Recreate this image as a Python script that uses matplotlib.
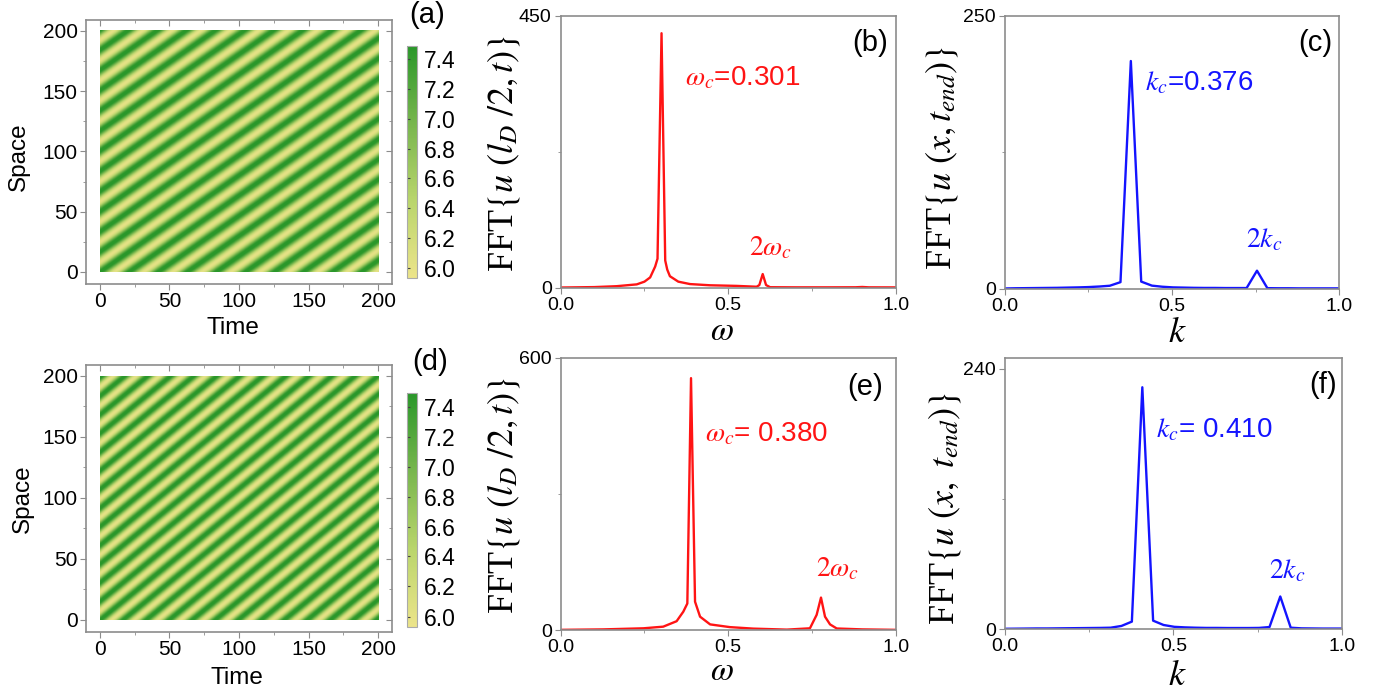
import numpy as np
import matplotlib
matplotlib.use('Agg')
import matplotlib.pyplot as plt
from matplotlib.colors import LinearSegmentedColormap
from matplotlib.ticker import MultipleLocator, FixedLocator

plt.rcParams['font.family'] = ['Liberation Sans', 'DejaVu Sans']
plt.rcParams['mathtext.fontset'] = 'stix'

# wave parameters for the space-time plots (a) and (d)
omega_a, k_a = 0.301, 0.376
omega_d, k_d = 0.380, 0.410
u_mean, u_amp = 6.78, 0.78
t_max, x_max = 200, 200

# FFT in time, panel (b)
b_w = [0.00, 0.10, 0.167, 0.227, 0.250, 0.267, 0.282, 0.289, 0.301, 0.312, 0.318,
       0.326, 0.351, 0.386, 0.446, 0.525, 0.585, 0.593, 0.603, 0.613, 0.625,
       0.70, 0.80, 0.88, 0.90, 0.92, 1.00]
b_amp = [0.3, 1.0, 2.5, 5.5, 10, 17, 35, 48, 421, 45, 30,
         19, 10, 6, 4, 3, 1.6, 4.4, 22.6, 4.4, 0.8,
         0.6, 0.6, 0.7, 1.2, 0.6, 0.5]

# FFT in time, panel (e)
e_w = [0.00, 0.127, 0.247, 0.306, 0.346, 0.366, 0.378, 0.389, 0.401, 0.416,
       0.446, 0.505, 0.575, 0.675, 0.744, 0.764, 0.777, 0.789, 0.804, 0.824,
       0.90, 1.00]
e_amp = [1.0, 2.0, 4.4, 8, 20, 41, 59, 555, 63, 30,
         13, 7, 3.7, 1.5, 4.4, 34, 72, 30, 13, 4,
         2, 1.0]

# FFT in space, panels (c) and (f)
k_grid = [0.000, 0.031, 0.063, 0.094, 0.126, 0.157, 0.188, 0.220, 0.251, 0.283,
          0.314, 0.346, 0.377, 0.408, 0.440, 0.471, 0.503, 0.534, 0.565, 0.597,
          0.628, 0.660, 0.691, 0.723, 0.754, 0.785, 0.817, 0.848, 0.880, 0.911,
          0.942, 0.974, 1.005]
c_amp = [0.2, 0.4, 0.5, 0.6, 0.7, 0.8, 1.0, 1.2, 1.5, 2.0,
         2.7, 6.0, 208.5, 6.5, 2.8, 1.8, 1.2, 1.0, 0.8, 0.7,
         0.7, 0.6, 0.6, 0.6, 16.5, 0.5, 0.4, 0.4, 0.3, 0.3,
         0.3, 0.3, 0.3]
f_amp = [0.2, 0.3, 0.4, 0.5, 0.5, 0.6, 0.7, 0.8, 0.9, 1.0,
         1.2, 2.8, 6.8, 223, 7.7, 3.7, 2.0, 1.5, 1.2, 1.0,
         1.0, 0.9, 0.9, 0.9, 1.0, 1.8, 30, 1.2, 0.6, 0.5,
         0.4, 0.4, 0.4]

cbar_ticks = [6.0, 6.2, 6.4, 6.6, 6.8, 7.0, 7.2, 7.4]
vmin, vmax = 5.93, 7.49

W, H = 1384, 698
fig = plt.figure(figsize=(W / 100, H / 100), dpi=100)


def px_axes(left, top, right, bottom):
    return fig.add_axes([left / W, 1 - bottom / H, (right - left) / W, (bottom - top) / H])


cmap = LinearSegmentedColormap.from_list('yg', ['#ece48a', '#b9d56c', '#78b64e', '#2a972a'])
FRAME = '#8c8c8c'


def heatmap(rect, cbar_rect, omega, k, label, lab_pos, space_pos, time_pos):
    ax = px_axes(*rect)
    t = np.linspace(0, t_max, 501)
    x = np.linspace(0, x_max, 501)
    T, X = np.meshgrid(t, x)
    u = u_mean + u_amp * np.cos(k * X - omega * T)
    im = ax.imshow(u, extent=[0, t_max, 0, x_max], origin='lower', aspect='auto',
                   cmap=cmap, vmin=vmin, vmax=vmax, interpolation='bilinear')
    ax.set_xlim(-10, 210)
    ax.set_ylim(-10, 209)
    for s in ax.spines.values():
        s.set_color(FRAME)
        s.set_linewidth(1.2)
    ax.xaxis.set_major_locator(MultipleLocator(50))
    ax.yaxis.set_major_locator(MultipleLocator(50))
    ax.xaxis.set_minor_locator(MultipleLocator(25))
    ax.yaxis.set_minor_locator(MultipleLocator(25))
    ax.tick_params(which='major', direction='out', length=4, color=FRAME, labelsize=15, pad=2)
    ax.tick_params(which='minor', direction='out', length=2.5, color=FRAME)
    top = ax.secondary_xaxis('top')
    top.xaxis.set_major_locator(FixedLocator([0, 50, 100, 150, 200]))
    top.xaxis.set_minor_locator(FixedLocator([25, 75, 125, 175]))
    top.tick_params(which='both', direction='in', color=FRAME, labeltop=False)
    top.tick_params(which='major', length=4)
    top.tick_params(which='minor', length=2.5)
    top.spines['top'].set_visible(False)
    right = ax.secondary_yaxis('right')
    right.yaxis.set_major_locator(FixedLocator([0, 50, 100, 150, 200]))
    right.yaxis.set_minor_locator(FixedLocator([25, 75, 125, 175]))
    right.tick_params(which='both', direction='in', color=FRAME, labelright=False)
    right.tick_params(which='major', length=4)
    right.tick_params(which='minor', length=2.5)
    right.spines['right'].set_visible(False)
    fig.text(space_pos[0] / W, 1 - space_pos[1] / H, 'Space', rotation=90,
             ha='center', va='center', fontsize=17.5)
    fig.text(time_pos[0] / W, 1 - time_pos[1] / H, 'Time', ha='center', va='center', fontsize=17.5)

    cax = px_axes(*cbar_rect)
    cb = fig.colorbar(im, cax=cax, ticks=cbar_ticks)
    cb.outline.set_edgecolor('#aaaaaa')
    cb.outline.set_linewidth(0.8)
    cb.ax.tick_params(labelsize=16.5, length=2.5, width=0.8, color='#444444', direction='in',
                      left=True, right=False, labelleft=False, labelright=True, pad=5)
    cb.ax.set_yticklabels([f'{v:.1f}' for v in cbar_ticks])
    fig.text(lab_pos[0] / W, 1 - lab_pos[1] / H, label, ha='center', va='center', fontsize=21)


heatmap((86, 20, 392, 284), (407, 46, 417, 278), omega_a, k_a, '(a)', (427, 15), (19, 157), (233, 328))
heatmap((86, 365, 392, 632), (407, 393, 417, 627), omega_d, k_d, '(d)', (430, 362), (23, 499), (237, 678))


def spectrum(rect, xs, ys, ymax, ytop, color, ylabel, xlabel, xlab_size, label, lab_pos,
             peak_txt, peak_xy, harm_txt, harm_xy, ylab_pos, xlab_pos):
    ax = px_axes(*rect)
    ax.plot(xs, ys, color=color, lw=1.7)
    ax.set_xlim(0, 1)
    ax.set_ylim(0, ytop)
    for s in ax.spines.values():
        s.set_color(FRAME)
        s.set_linewidth(1.2)
    ax.set_xticks([0, 0.5, 1.0])
    ax.set_xticklabels(['0.0', '0.5', '1.0'])
    ax.xaxis.set_minor_locator(FixedLocator([0.25, 0.75]))
    ax.set_yticks([0, ymax])
    ax.yaxis.set_minor_locator(FixedLocator([ymax / 2]))
    ax.tick_params(which='major', direction='out', length=4.5, color=FRAME, labelsize=14, pad=2)
    ax.tick_params(which='minor', direction='out', length=2.5, color=FRAME)
    ax.text(ylab_pos[0] / W, 1 - ylab_pos[1] / H, ylabel, transform=fig.transFigure,
            rotation=90, ha='center', va='center', fontsize=26, family='Liberation Serif')
    ax.text(xlab_pos[0] / W, 1 - xlab_pos[1] / H, xlabel, transform=fig.transFigure,
            ha='center', va='baseline', fontsize=xlab_size)
    ax.text(peak_xy[0], peak_xy[1], peak_txt, color=color, fontsize=20, va='baseline')
    ax.text(harm_xy[0], harm_xy[1], harm_txt, color=color, fontsize=20, va='baseline')
    fig.text(lab_pos[0] / W, 1 - lab_pos[1] / H, label, ha='center', va='center', fontsize=21)


RED = '#ff1414'
BLUE = '#1414ff'
spectrum((560.7, 15.7, 895.7, 287.7), b_w, b_amp, 450, 450, RED,
         r'FFT$\{u\ (l_D\ /2,t)\}$', r'$\omega$', 24, '(b)', (870, 43),
         r'$\omega_c$=0.301', (0.371, 335), r'$2\omega_c$', (0.562, 54), (503, 153), (722, 340))
spectrum((1004.7, 15.7, 1339.3, 288.7), k_grid, c_amp, 250, 250, BLUE,
         r'FFT$\{u\ (x,t_{end})\}$', r'$k$', 26, '(c)', (1315, 43),
         r'$k_c$=0.376', (0.419, 182), r'$2k_c$', (0.721, 38), (942, 158), (1177, 342))
spectrum((560.7, 357.7, 895.7, 630.3), e_w, e_amp, 600, 600, RED,
         r'FFT$\{u\ (l_D\ /2,t)\}$', r'$\omega$', 24, '(e)', (865, 387),
         r'$\omega_c$= 0.380', (0.431, 415), r'$2\omega_c$', (0.762, 118), (503, 495), (722, 680))
spectrum((1004.7, 358, 1342, 629), k_grid, f_amp, 240, 250, BLUE,
         r'FFT$\{u\ (x,\ t_{end})\}$', r'$k$', 26, '(f)', (1323, 385),
         r'$k_c$= 0.410', (0.449, 177), r'$2k_c$', (0.784, 47), (945, 508), (1177, 685))

fig.savefig('out.png', dpi=100)
